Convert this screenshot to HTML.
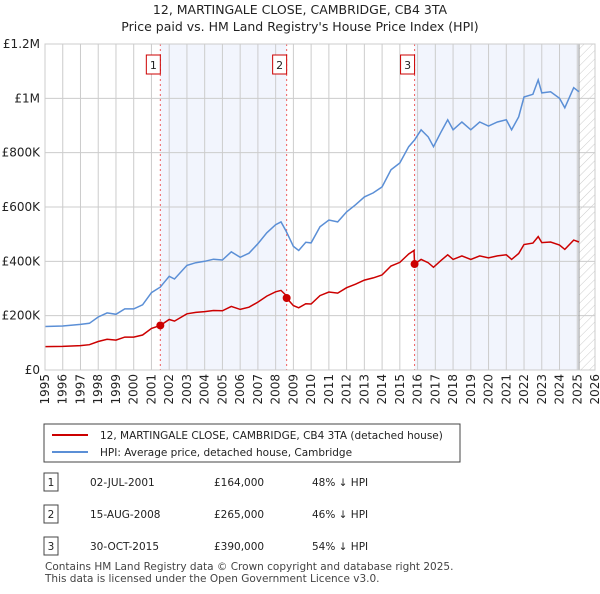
<!DOCTYPE html>
<html><head><meta charset="utf-8"><style>
body{margin:0;background:#fff;font-family:"DejaVu Sans","Liberation Sans",sans-serif;}
svg text{font-family:"DejaVu Sans","Liberation Sans",sans-serif;}
</style></head><body>
<svg id="c" width="600" height="590" viewBox="0 0 600 590" xmlns="http://www.w3.org/2000/svg">
<defs><pattern id="hatch" width="6" height="6" patternUnits="userSpaceOnUse" patternTransform="rotate(45)"><line x1="0" y1="0" x2="0" y2="6" stroke="#ccc" stroke-width="1"/></pattern></defs>
<text x="300" y="14" text-anchor="middle" font-size="12.5" fill="#222">12, MARTINGALE CLOSE, CAMBRIDGE, CB4 3TA</text>
<text x="300" y="31" text-anchor="middle" font-size="12.5" fill="#222">Price paid vs. HM Land Registry's House Price Index (HPI)</text>
<g id="plot"></g>
<g>
<rect x="44" y="424" width="416" height="38" fill="#fff" stroke="#444"/>
<line x1="52" y1="435" x2="88" y2="435" stroke="#cc0000" stroke-width="2"/>
<text x="100" y="439" font-size="10.5" fill="#222">12, MARTINGALE CLOSE, CAMBRIDGE, CB4 3TA (detached house)</text>
<line x1="52" y1="452" x2="88" y2="452" stroke="#5b8fd6" stroke-width="2"/>
<text x="100" y="456" font-size="10.5" fill="#222">HPI: Average price, detached house, Cambridge</text>
</g>
<g id="table" font-size="10.5" fill="#222"></g>
<text x="45" y="570" font-size="10.5" fill="#444">Contains HM Land Registry data © Crown copyright and database right 2025.</text>
<text x="45" y="582" font-size="10.5" fill="#444">This data is licensed under the Open Government Licence v3.0.</text>
</svg>
<script>
const hpiYears=[1995,1996,1997,1997.5,1998,1998.5,1999,1999.5,2000,2000.5,2001,2001.5,2002,2002.3,2003,2003.5,2004,2004.5,2005,2005.5,2006,2006.5,2007,2007.5,2008,2008.3,2008.6,2009,2009.3,2009.7,2010,2010.5,2011,2011.5,2012,2012.5,2013,2013.5,2014,2014.5,2015,2015.5,2015.83,2016.2,2016.6,2016.9,2017.3,2017.7,2018,2018.5,2019,2019.5,2020,2020.5,2021,2021.3,2021.7,2022,2022.5,2022.8,2023,2023.5,2024,2024.3,2024.8,2025.1];
const hpiValues=[160,162,168,172,195,210,205,225,225,240,285,305,345,335,385,395,400,408,405,435,415,430,465,505,535,545,510,455,440,470,468,527,552,545,582,608,637,652,674,737,762,822,847,884,858,822,873,921,884,913,884,913,898,913,921,884,932,1005,1015,1068,1020,1024,1000,965,1039,1024];
const redYears=[1995,1996,1997,1997.5,1998,1998.5,1999,1999.5,2000,2000.5,2001,2001.5,2002,2002.3,2003,2003.5,2004,2004.5,2005,2005.5,2006,2006.5,2007,2007.5,2008,2008.3,2008.6,2008.62,2009,2009.3,2009.7,2010,2010.5,2011,2011.5,2012,2012.5,2013,2013.5,2014,2014.5,2015,2015.5,2015.8,2015.83,2016.2,2016.6,2016.9,2017.3,2017.7,2018,2018.5,2019,2019.5,2020,2020.5,2021,2021.3,2021.7,2022,2022.5,2022.8,2023,2023.5,2024,2024.3,2024.8,2025.1];
const redValues=[86,87,90,93,105,113,110,121,121,129,153,164,186,180,207,212,215,219,218,234,223,231,250,272,288,293,274,265,237,229,244,243,274,287,283,303,316,331,339,350,383,396,427,440,390,407,395,378,402,424,407,420,407,420,413,420,424,407,429,462,467,491,469,471,460,444,478,471];
const saleDates=[2001.5,2008.62,2015.83];
const salePrices=[164,265,390];
const saleLabels=["02-JUL-2001","15-AUG-2008","30-OCT-2015"];
const salePriceText=["£164,000","£265,000","£390,000"];
const saleHpiText=["48% ↓ HPI","46% ↓ HPI","54% ↓ HPI"];
const yTicks=[0,200,400,600,800,1000,1200];
const yTickLabels=["£0","£200K","£400K","£600K","£800K","£1M","£1.2M"];
const xStart=1995,xEnd=2026,dataEnd=2025.1;
const NS="http://www.w3.org/2000/svg";
const X0=45,X1=595,Y0=370,Y1=44;
const xs=v=>X0+(v-xStart)/(xEnd-xStart)*(X1-X0);
const ys=v=>Y0-v/1200*(Y0-Y1);
const g=document.getElementById('plot');
function mk(tag,at,parent){const e=document.createElementNS(NS,tag);for(const k in at)e.setAttribute(k,at[k]);(parent||g).appendChild(e);return e;}
let e;
e=mk('rect',{x:xs(saleDates[0]),y:Y1,width:xs(saleDates[1])-xs(saleDates[0]),height:Y0-Y1,fill:'#f2f5fd'});


e=mk('rect',{x:xs(saleDates[2]),y:Y1,width:xs(dataEnd)-xs(saleDates[2]),height:Y0-Y1,fill:'#f2f5fd'});


e=mk('rect',{x:xs(dataEnd),y:Y1,width:X1-xs(dataEnd),height:Y0-Y1,fill:'url(#hatch)'});


for(let yr=xStart;yr<=xEnd;yr++){
 e=mk('line',{x1:xs(yr),x2:xs(yr),y1:Y1,y2:Y0,stroke:'#ccc','stroke-width':1});
 
 
 e=mk('text',{x:0,y:0,transform:`translate(${xs(yr)+4},${374}) rotate(-90)`,'text-anchor':'end','font-size':12,fill:'#222'});
 e.textContent=yr;
 
 
}
yTicks.forEach((t,i)=>{
 e=mk('line',{x1:X0,x2:X1,y1:ys(t),y2:ys(t),stroke:'#ccc','stroke-width':1});
 
 
 e=mk('text',{x:40,y:ys(t)+4,'text-anchor':'end','font-size':12,fill:'#222'});
 e.textContent=yTickLabels[i];
 
 
});
e=mk('line',{x1:xs(dataEnd),x2:xs(dataEnd),y1:Y1,y2:Y0,stroke:'#999','stroke-width':1});


saleDates.forEach((d,i)=>{
 e=mk('line',{x1:xs(d),x2:xs(d),y1:Y1,y2:Y0,stroke:'#f06060','stroke-width':1,'stroke-dasharray':'2,3'});
 
 
 e=mk('rect',{x:xs(d)-14,y:55,width:14,height:19,fill:'#fff',stroke:'#cc0000'});
 
 
 e=mk('text',{x:xs(d)-7,y:69,'text-anchor':'middle','font-size':11,fill:'#222'});
 e.textContent=i+1;
 
 
});
function path(xa,va){return xa.map((x,i)=>(i?'L':'M')+xs(x).toFixed(1)+','+ys(va[i]).toFixed(1)).join('');}
e=mk('path',{d:path(hpiYears,hpiValues),fill:'none',stroke:'#5b8fd6','stroke-width':1.5});


e=mk('path',{d:path(redYears,redValues),fill:'none',stroke:'#cc0000','stroke-width':1.5});


saleDates.forEach((d,i)=>{
 e=mk('circle',{cx:xs(d),cy:ys(salePrices[i]),r:4,fill:'#cc0000'});
 
 
});
e=mk('rect',{x:X0,y:Y1,width:X1-X0,height:Y0-Y1,fill:'none',stroke:'#ccc'});


const tb=document.getElementById('table');
saleDates.forEach((d,i)=>{
 const cy=482+i*32;
 e=mk('rect',{x:44,y:cy-9,width:14,height:18,fill:'#fff',stroke:'#444'},tb);
 
 
 e=mk('text',{x:51,y:cy+4,'text-anchor':'middle'},tb);e.textContent=i+1;
 
 
 e=mk('text',{x:90,y:cy+4},tb);e.textContent=saleLabels[i];
 
 
 e=mk('text',{x:214,y:cy+4},tb);e.textContent=salePriceText[i];
 
 
 e=mk('text',{x:312,y:cy+4},tb);e.textContent=saleHpiText[i];
 
 
});
</script>
</body></html>
